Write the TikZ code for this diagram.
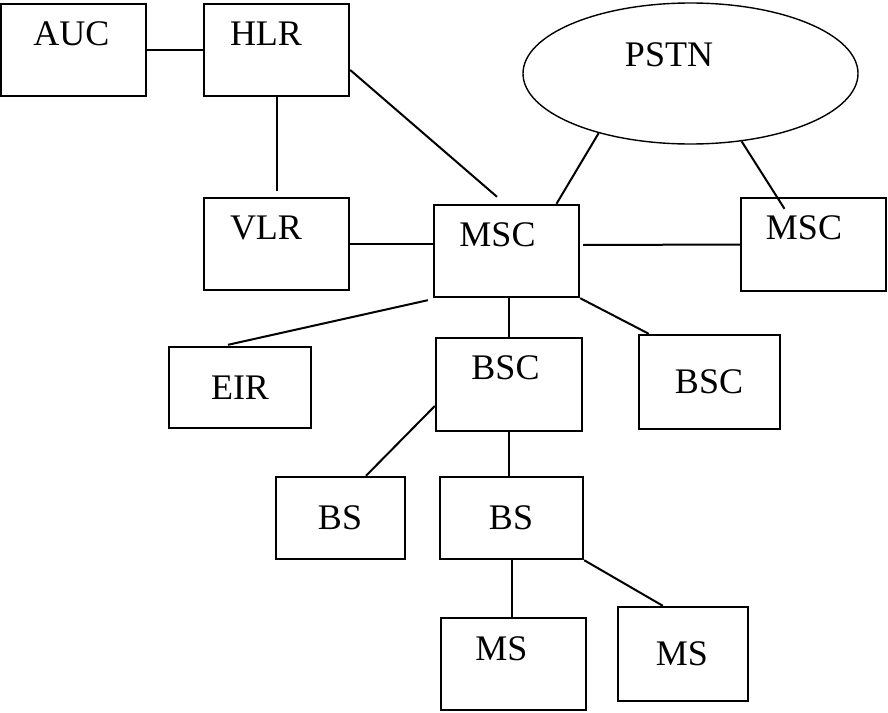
\documentclass[tikz,border=0pt]{standalone}
\usepackage{fontspec}
\setmainfont{Liberation Serif}
\usetikzlibrary{shapes.geometric}
\begin{document}
\begin{tikzpicture}[x=1pt, y=-1pt,
    box/.style={draw, rectangle, line width=2.4pt, inner sep=0pt},
    cloud/.style={draw, ellipse, line width=1.4pt, inner sep=0pt},
    lbl/.style={inner sep=0pt, font=\fontsize{36}{40}\selectfont},
    link/.style={line width=2pt}]

        \useasboundingbox (0,0) rectangle (888,712);

        %Core network
        \node [box, minimum width=145pt, minimum height=92pt] (auc)  at (73.5,50)   {};
        \node [box, minimum width=145pt, minimum height=92pt] (hlr)  at (276.5,50)  {};
        \node [box, minimum width=145pt, minimum height=92pt] (vlr)  at (276.5,244) {};
        \node [box, minimum width=145pt, minimum height=92pt] (msc)  at (506.5,251) {};
        \node [box, minimum width=145pt, minimum height=93pt] (msc2) at (813.5,244.5) {};
        \node [box, minimum width=142pt, minimum height=81pt] (eir)  at (240,387.5) {};
        \node [cloud, minimum width=335pt, minimum height=141pt] (pstn) at (690.5,73.5) {};
        \node [lbl] (auctext)  at (71.5,34)  {AUC};
        \node [lbl] (hlrtext)  at (266,34)   {HLR};
        \node [lbl] (vlrtext)  at (266,228)  {VLR};
        \node [lbl] (msctext)  at (497.5,235) {MSC};
        \node [lbl] (msc2text) at (804,228)  {MSC};
        \node [lbl] (eirtext)  at (240,388)  {EIR};
        \node [lbl] (pstntext) at (669,55)   {PSTN};

        %Radio network
        \node [box, minimum width=146pt, minimum height=93pt] (bsc)  at (509,384.5) {};
        \node [box, minimum width=141pt, minimum height=94pt] (bsc2) at (709.5,382) {};
        \node [box, minimum width=129pt, minimum height=82pt] (bs1)  at (340.5,518) {};
        \node [box, minimum width=143pt, minimum height=82pt] (bs2)  at (511.5,518) {};
        \node [box, minimum width=145pt, minimum height=92pt] (ms1)  at (513.5,664) {};
        \node [box, minimum width=130pt, minimum height=94pt] (ms2)  at (683,654)   {};
        \node [lbl] (bsctext)  at (505.5,368) {BSC};
        \node [lbl] (bsc2text) at (709,382)  {BSC};
        \node [lbl] (bs1text)  at (340,518)  {BS};
        \node [lbl] (bs2text)  at (511,518)  {BS};
        \node [lbl] (ms1text)  at (501.5,649) {MS};
        \node [lbl] (ms2text)  at (682,654)  {MS};

        %Links
        \draw [link] (auc) -- (hlr);
        \draw [link] ([xshift=0.5pt]hlr.south) -- ([shift={(0.5pt,6pt)}]vlr.north);
        \draw [link] ([yshift=-20pt]hlr.east) -- ([shift={(-9.5pt,7pt)}]msc.north);
        \draw [link] (vlr.east) -- ([shift={(2pt,7pt)}]msc.west);
        \draw [link] ([shift={(3pt,6pt)}]msc.east) -- (msc2.west);
        \draw [link] (pstn.213) -- ([xshift=50pt]msc.north);
        \draw [link] (pstn.307) -- ([shift={(-29pt,-12pt)}]msc2.north);
        \draw [link] ([shift={(-5pt,-2pt)}]msc.south west) -- ([shift={(-12pt,1pt)}]eir.north);
        \draw [link] ([xshift=2.5pt]msc.south) -- (bsc.north);
        \draw [link] (msc.south east) -- ([xshift=11pt]bsc2.north west);
        \draw [link] ([yshift=-21.5pt]bsc.west) -- ([xshift=25.5pt]bs1.north);
        \draw [link] (bsc.south) -- (bsc.south |- bs2.north);
        \draw [link] ([xshift=0.5pt]bs2.south) -- ([xshift=0.5pt]bs2.south |- ms1.north);
        \draw [link] (bs2.south east) -- ([xshift=46pt]ms2.north west);

\end{tikzpicture}
\end{document}
